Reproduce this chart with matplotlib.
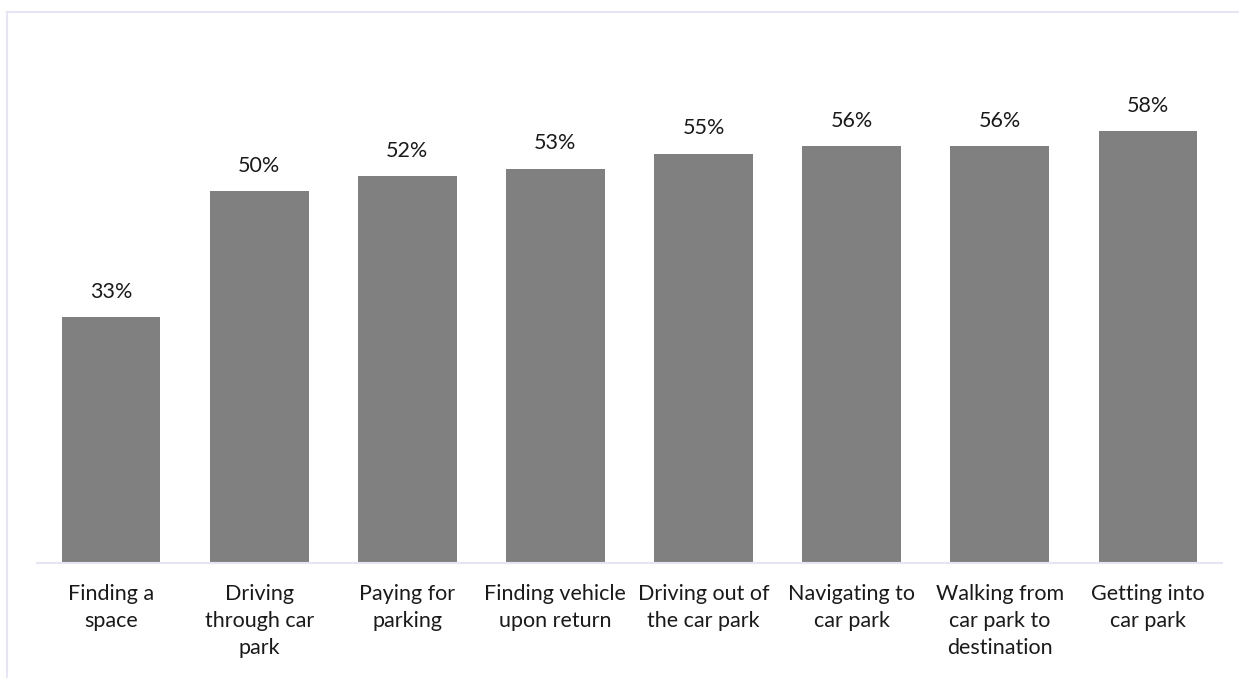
import matplotlib
matplotlib.use("Agg")
import matplotlib.pyplot as plt
from matplotlib.lines import Line2D

categories = [
    "Finding a\nspace",
    "Driving\nthrough car\npark",
    "Paying for\nparking",
    "Finding vehicle\nupon return",
    "Driving out of\nthe car park",
    "Navigating to\ncar park",
    "Walking from\ncar park to\ndestination",
    "Getting into\ncar park",
]
values = [33, 50, 52, 53, 55, 56, 56, 58]

BAR_COLOR = "#808080"
LINE_COLOR = "#E8E4F3"
TEXT_COLOR = "#1a1a1a"
FONT = ["Lato", "DejaVu Sans"]

W, H = 1239, 678
fig = plt.figure(figsize=(W / 100, H / 100), dpi=100)
ax = fig.add_axes([37 / W, (H - 563) / H, (1222 - 37) / W, (563 - 42) / H])

x = range(len(values))
bars = ax.bar(x, values, width=0.667, color=BAR_COLOR)
ax.set_xlim(-0.5, len(values) - 0.5)
ax.set_ylim(0, 70)

for rect, v in zip(bars, values):
    ax.annotate(f"{v}%", (rect.get_x() + rect.get_width() / 2, v),
                xytext=(0, 11), textcoords="offset points",
                ha="center", va="bottom", fontsize=15.5, family=FONT,
                color=TEXT_COLOR)

ax.set_xticks(list(x))
ax.set_xticklabels(categories, fontsize=15.5, family=FONT, color=TEXT_COLOR,
                   linespacing=1.45)
ax.tick_params(axis="x", length=0, pad=15)
ax.set_yticks([])
for side in ("top", "right", "left"):
    ax.spines[side].set_visible(False)
ax.spines["bottom"].set_color(LINE_COLOR)
ax.spines["bottom"].set_linewidth(1.5)

# outer chart frame (top and left edges)
fig.add_artist(Line2D([7 / W, 7 / W], [0, (H - 12) / H], color=LINE_COLOR,
                      lw=1.5, transform=fig.transFigure))
fig.add_artist(Line2D([7 / W, 1], [(H - 12) / H, (H - 12) / H], color=LINE_COLOR,
                      lw=1.5, transform=fig.transFigure))

fig.savefig("out.png", dpi=100, facecolor="white")
